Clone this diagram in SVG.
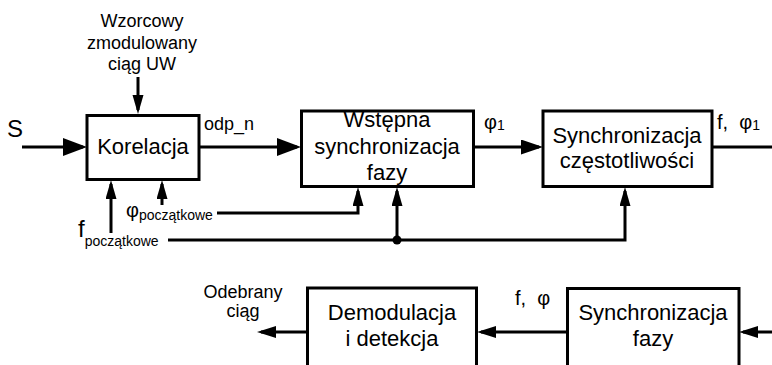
<svg xmlns="http://www.w3.org/2000/svg" width="772" height="365" viewBox="0 0 772 365">
<style>
text{font-family:"Liberation Sans",Arial,sans-serif;fill:#000}
.box{fill:#fff;stroke:#000;stroke-width:3}
.ln{fill:none;stroke:#000;stroke-width:3}
.t22{font-size:22px;text-anchor:middle}
.t18{font-size:18px}
.c{text-anchor:middle}
.sub{font-size:14px}
</style>
<defs>
<marker id="aL" markerUnits="userSpaceOnUse" markerWidth="26" markerHeight="20" refX="20" refY="9" orient="auto"><path d="M0,0 L24,9 L0,18 Z" fill="#000"/></marker>
<marker id="aM" markerUnits="userSpaceOnUse" markerWidth="24" markerHeight="16" refX="18" refY="7.5" orient="auto"><path d="M0,0 L22,7.5 L0,15 Z" fill="#000"/></marker>
<marker id="aV" markerUnits="userSpaceOnUse" markerWidth="22" markerHeight="12" refX="15" refY="5.5" orient="auto"><path d="M0,0 L19,5.5 L0,11 Z" fill="#000"/></marker>
<marker id="aS" markerUnits="userSpaceOnUse" markerWidth="22" markerHeight="14" refX="15" refY="6" orient="auto"><path d="M0,0 L19,6 L0,12 Z" fill="#000"/></marker>
</defs>

<g id="connectors">
<line class="ln" x1="22" y1="147" x2="83" y2="147" marker-end="url(#aL)"/>
<line class="ln" x1="138" y1="77" x2="138" y2="110" marker-end="url(#aV)"/>
<line class="ln" x1="199" y1="147" x2="297" y2="147" marker-end="url(#aL)"/>
<line class="ln" x1="473" y1="147" x2="539" y2="147" marker-end="url(#aM)"/>
<line class="ln" x1="712" y1="147" x2="772" y2="147"/>
<line class="ln" x1="111" y1="233" x2="111" y2="184" marker-end="url(#aV)"/>
<line class="ln" x1="162" y1="205" x2="162" y2="184" marker-end="url(#aV)"/>
<polyline class="ln" points="217,213 358,213 358,191" marker-end="url(#aV)"/>
<polyline class="ln" points="168,240 625,240 625,191" marker-end="url(#aV)"/>
<line class="ln" x1="397" y1="240" x2="397" y2="191" marker-end="url(#aV)"/>
<circle cx="397" cy="240" r="4.5" fill="#000"/>
<line class="ln" x1="772" y1="332" x2="743" y2="332" marker-end="url(#aS)"/>
<line class="ln" x1="567" y1="332" x2="481" y2="332" marker-end="url(#aS)"/>
<line class="ln" x1="307" y1="332" x2="261" y2="332" marker-end="url(#aS)"/>
</g>

<g id="korelacja">
<rect class="box" x="87" y="115.5" width="112" height="64"/>
<text class="t22" x="143" y="154">Korelacja</text>
</g>

<g id="wstepna">
<rect class="box" x="301.5" y="111" width="172" height="75.5"/>
<text class="t22" x="387" y="127">Wstępna</text>
<text class="t22" x="387" y="154">synchronizacja</text>
<text class="t22" x="387" y="180">fazy</text>
</g>

<g id="sync-czest">
<rect class="box" x="543" y="111" width="169" height="75.5"/>
<text class="t22" x="627" y="143">Synchronizacja</text>
<text class="t22" x="627" y="168">częstotliwości</text>
</g>

<g id="demodulacja">
<rect class="box" x="307.5" y="288" width="169" height="85"/>
<text class="t22" x="392" y="320">Demodulacja</text>
<text class="t22" x="392" y="346">i detekcja</text>
</g>

<g id="sync-fazy">
<rect class="box" x="567.5" y="288.5" width="171.5" height="85"/>
<text class="t22" x="653" y="320">Synchronizacja</text>
<text class="t22" x="653" y="346">fazy</text>
</g>

<g id="labels">
<text class="t18 c" x="142" y="27">Wzorcowy</text>
<text class="t18 c" x="142" y="49">zmodulowany</text>
<text class="t18 c" x="142" y="70">ciąg UW</text>
<text x="7" y="137" font-size="24">S</text>
<text class="t18" x="204" y="130">odp_n</text>
<text x="126" y="217" font-size="20">φ<tspan class="sub" dy="3">początkowe</tspan></text>
<text x="78" y="237" font-size="24">f<tspan class="sub" dy="9">początkowe</tspan></text>
<text x="484" y="129" font-size="20">φ<tspan class="sub" dy="1">1</tspan></text>
<text x="717" y="129" font-size="20" xml:space="preserve">f,  φ<tspan class="sub" dy="1">1</tspan></text>
<text class="t18 c" x="243" y="298">Odebrany</text>
<text class="t18 c" x="243" y="317">ciąg</text>
<text x="515" y="305" font-size="20" xml:space="preserve">f,  φ</text>
</g>
</svg>
